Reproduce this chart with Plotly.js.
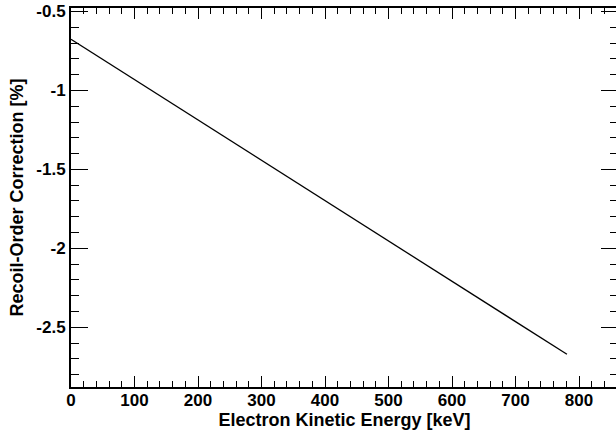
<!DOCTYPE html>
<html>
<head>
<meta charset="utf-8">
<script src="https://cdn.plot.ly/plotly-3.0.1.min.js"></script>
<style>html,body{margin:0;padding:0;background:#fff;overflow:hidden;}#plot{width:618px;height:435px;}</style>
</head>
<body>
<div id="plot"></div>
<script>
// Electron kinetic energy [keV]
const energy = [0, 100, 200, 300, 400, 500, 600, 700, 781];
// Recoil-order correction [%]
const correction = [-0.676, -0.931, -1.187, -1.442, -1.698, -1.953, -2.209, -2.464, -2.671];

const xTickVals = [0, 100, 200, 300, 400, 500, 600, 700, 800];
const xTickText = ['0', '100', '200', '300', '400', '500', '600', '700', '800'];
const yTickVals = [-0.5, -1, -1.5, -2, -2.5];
const yTickText = ['-0.5', '-1', '-1.5', '-2', '-2.5'];

const FONT = 'Liberation Sans, Arial, Helvetica, sans-serif';

const trace = {
  x: energy, y: correction, type: 'scatter', mode: 'lines',
  line: {color: '#000', width: 1.3}, hoverinfo: 'skip'
};

const layout = {
  width: 618, height: 435,
  margin: {l: 71, r: 0, t: 8, b: 48},
  paper_bgcolor: '#fff', plot_bgcolor: '#fff',
  showlegend: false,
  font: {family: FONT, color: '#000'},
  xaxis: {
    range: [0, 861.4],
    tickmode: 'array', tickvals: xTickVals, ticktext: xTickText,
    ticks: 'inside', ticklen: 11, tickwidth: 1, tickcolor: '#000',
    minor: {dtick: 20, tick0: 0, ticks: 'inside', ticklen: 6, tickwidth: 1, tickcolor: '#000', showgrid: false},
    showline: true, linecolor: '#000', linewidth: 2, mirror: 'allticks',
    showgrid: false, zeroline: false,
    ticklabelstandoff: -3,
    tickfont: {family: FONT, size: 17, weight: 'bold', color: '#000'},
    title: {text: 'Electron Kinetic Energy [keV]', font: {family: FONT, size: 18, weight: 'bold', color: '#000'}, standoff: 2}
  },
  yaxis: {
    range: [-2.878, -0.478],
    tickmode: 'array', tickvals: yTickVals, ticktext: yTickText,
    ticks: 'inside', ticklen: 17, tickwidth: 1, tickcolor: '#000',
    minor: {dtick: 0.1, tick0: -0.5, ticks: 'inside', ticklen: 8, tickwidth: 1, tickcolor: '#000', showgrid: false},
    showline: true, linecolor: '#000', linewidth: 2, mirror: 'allticks',
    showgrid: false, zeroline: false,
    tickfont: {family: FONT, size: 17, weight: 'bold', color: '#000'},
    title: {text: 'Recoil-Order Correction [%]', font: {family: FONT, size: 18, weight: 'bold', color: '#000'}, standoff: 8}
  }
};

Plotly.newPlot('plot', [trace], layout, {staticPlot: true, displayModeBar: false});
</script>
</body>
</html>
